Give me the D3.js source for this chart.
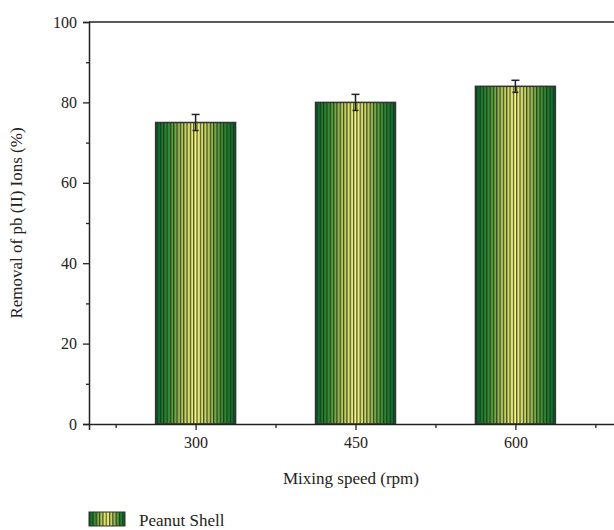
<!DOCTYPE html>
<html>
<head>
<meta charset="utf-8">
<script src="https://cdn.jsdelivr.net/npm/d3@7"></script>
<style>
  body { margin: 0; background: #fff; }
  svg text { font-family: "Liberation Serif", "Times New Roman", Times, "DejaVu Serif", serif !important; fill: #222; }
</style>
</head>
<body>
<div id="chart"></div>
<script>
// data
const speeds = [300, 450, 600];
const removal = [75, 80, 84];
const errors = [2, 2, 1.5];
const yTicks = [0, 20, 40, 60, 80, 100];
const xTicks = [300, 450, 600];
const seriesName = "Peanut Shell";

const width = 614, height = 530;
const svg = d3.select("#chart").append("svg")
    .attr("width", width)
    .attr("height", height);

// scales
let x = d3.scaleLinear().domain([200, 700]).range([89, 622]);
let y = d3.scaleLinear().domain([0, 100]).range([424, 22]);

// fill: green-yellow gradient with vertical dark stripes
const defs = svg.append("defs");
const grad = defs.append("linearGradient")
    .attr("id", "barGrad")
    .attr("x1", "0%").attr("x2", "100%").attr("y1", "0%").attr("y2", "0%");
[[0, "#00662e"], [0.18, "#3f9236"], [0.34, "#b8c65c"], [0.5, "#fbf57e"],
 [0.66, "#b8c65c"], [0.82, "#3f9236"], [1, "#00662e"]].forEach(s => {
    grad.append("stop").attr("offset", s[0]).attr("stop-color", s[1]);
});
const pat = defs.append("pattern")
    .attr("id", "stripes")
    .attr("patternUnits", "userSpaceOnUse")
    .attr("width", 3.33).attr("height", 10);
pat.append("rect")
    .attr("x", 0).attr("y", 0).attr("width", 1.2).attr("height", 10)
    .attr("fill", "#1b2a12").attr("fill-opacity", 0.8);

const barW = x(337.5) - x(262.5);

// bars
const bars = svg.append("g");
bars.selectAll(".bar")
    .data(speeds)
    .enter().append("rect")
    .attr("class", "bar")
    .attr("x", (d) => x(d) - barW / 2)
    .attr("width", barW)
    .attr("y", (d, i) => y(removal[i]))
    .attr("height", (d, i) => y(0) - y(removal[i]))
    .attr("fill", "url(#barGrad)");
bars.selectAll(".stripe")
    .data(speeds)
    .enter().append("rect")
    .attr("class", "stripe")
    .attr("x", (d) => x(d) - barW / 2)
    .attr("width", barW)
    .attr("y", (d, i) => y(removal[i]))
    .attr("height", (d, i) => y(0) - y(removal[i]))
    .attr("fill", "url(#stripes)")
    .attr("stroke", "#333")
    .attr("stroke-width", 1.5);

// error bars
const eb = svg.append("g").attr("stroke", "#222").attr("stroke-width", 1.5);
speeds.forEach((d, i) => {
    const cx = x(d);
    eb.append("line")
        .attr("x1", cx).attr("x2", cx)
        .attr("y1", y(removal[i] + errors[i])).attr("y2", y(removal[i] - errors[i]));
    eb.append("line")
        .attr("x1", cx - 4).attr("x2", cx + 4)
        .attr("y1", y(removal[i] + errors[i])).attr("y2", y(removal[i] + errors[i]));
    eb.append("line")
        .attr("x1", cx - 3).attr("x2", cx + 3)
        .attr("y1", y(removal[i] - errors[i])).attr("y2", y(removal[i] - errors[i]));
});

// y axis
svg.append("g")
    .attr("transform", "translate(" + x(200) + ",0)")
    .call(d3.axisLeft(y).tickValues(yTicks).tickSize(6).tickPadding(6));
svg.append("g")
    .attr("transform", "translate(" + x(200) + ",0)")
    .call(d3.axisLeft(y).tickValues([10, 30, 50, 70, 90]).tickSize(3).tickFormat(""))
    .call(g => g.select(".domain").remove());

// x axis
svg.append("g")
    .attr("transform", "translate(0," + y(0) + ")")
    .call(d3.axisBottom(x).tickValues(xTicks).tickSize(6).tickPadding(7).tickFormat(d3.format("d")));
svg.append("g")
    .attr("transform", "translate(0," + y(0) + ")")
    .call(d3.axisBottom(x).tickValues([225, 375, 525, 675]).tickSize(4).tickFormat(""))
    .call(g => g.select(".domain").remove());

// top border
svg.append("line")
    .attr("x1", x(200)).attr("x2", x(700))
    .attr("y1", y(100)).attr("y2", y(100))
    .attr("stroke", "#222").attr("stroke-width", 1.5);

svg.selectAll(".domain").attr("stroke", "#222").attr("stroke-width", 1.5);
svg.selectAll(".tick line").attr("stroke", "#222").attr("stroke-width", 1.3);
svg.selectAll(".tick text")
    .attr("font-family", null)
    .style("font-size", "16px")
    .attr("fill", "#222");
svg.selectAll("g").attr("font-family", null);

// axis titles
svg.append("text")
    .attr("x", 351).attr("y", 484)
    .attr("text-anchor", "middle")
    .style("font-size", "17px")
    .text("Mixing speed (rpm)");
svg.append("text")
    .attr("transform", "translate(22," + y(50) + ") rotate(-90)")
    .attr("text-anchor", "middle")
    .style("font-size", "17px")
    .text("Removal of pb (II) Ions (%)");

// legend
const leg = svg.append("g").attr("transform", "translate(89,512)");
leg.append("rect").attr("width", 36).attr("height", 14).attr("fill", "url(#barGrad)");
leg.append("rect").attr("width", 36).attr("height", 14)
    .attr("fill", "url(#stripes)").attr("stroke", "#333").attr("stroke-width", 1);
leg.append("text")
    .attr("x", 50).attr("y", 14)
    .style("font-size", "17px")
    .text(seriesName);
</script>
</body>
</html>
